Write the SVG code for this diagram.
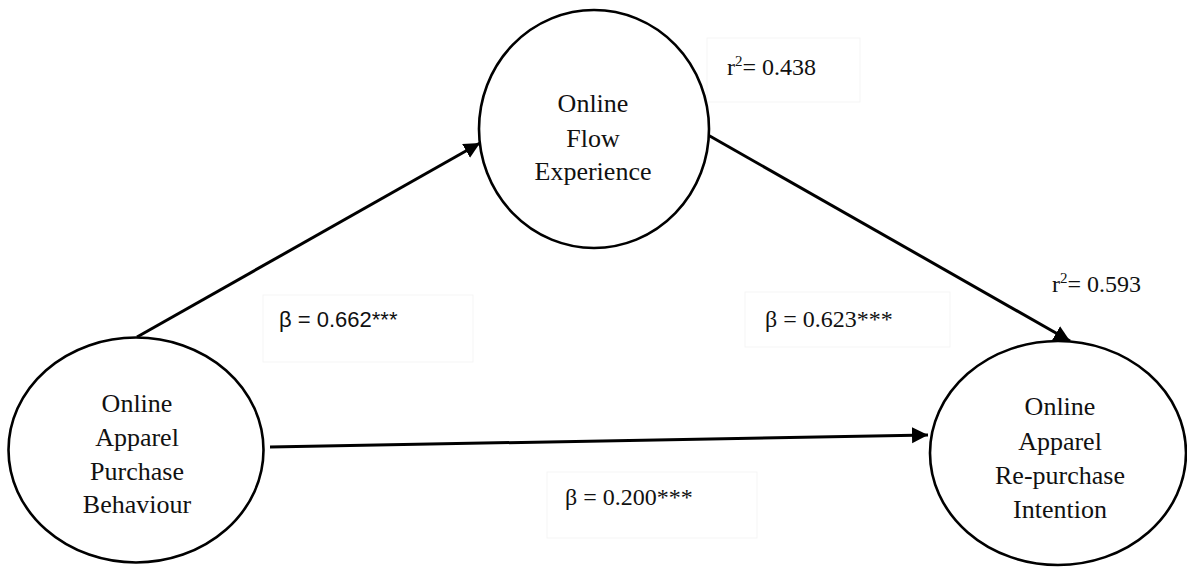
<svg xmlns="http://www.w3.org/2000/svg" width="1187" height="569" viewBox="0 0 1187 569">
<style>
.node{fill:#fff;stroke:#000;stroke-width:2.6}
.lbl{font-family:"Liberation Serif","Times New Roman",serif;font-size:26px;fill:#111;text-anchor:middle}
.ser{font-family:"Liberation Serif","Times New Roman",serif;font-size:24px;fill:#111}
.sans{font-family:"Liberation Sans",Arial,sans-serif;font-size:22px;fill:#111}
.box{fill:#fff;stroke:#f5f5f5;stroke-width:1}
.edge{fill:none;stroke:#000;stroke-width:3}
</style>
<defs>
<marker id="ah" markerUnits="userSpaceOnUse" markerWidth="18" markerHeight="18" refX="16" refY="8" orient="auto">
<path d="M0,0 L16,8 L0,16 z" fill="#000"/>
</marker>
</defs>
<rect width="1187" height="569" fill="#fff"/>
<g id="labels">
<rect class="box" x="263" y="295" width="210" height="67"/>
<rect class="box" x="745" y="292" width="205" height="55"/>
<rect class="box" x="707" y="38" width="153" height="64"/>
<rect class="box" x="547" y="472" width="210" height="66"/>
<text class="sans" x="279" y="327">β = 0.662***</text>
<text class="ser" x="765" y="327">β = 0.623***</text>
<text class="ser" x="565" y="505">β = 0.200***</text>
<text class="ser" x="727" y="75">r<tspan font-size="15" dy="-9">2</tspan><tspan dy="9">= 0.438</tspan></text>
<text class="ser" x="1052" y="292">r<tspan font-size="15" dy="-9">2</tspan><tspan dy="9">= 0.593</tspan></text>
</g>
<g id="connectors">
<path class="edge" d="M137,337 L480,143" marker-end="url(#ah)"/>
<path class="edge" d="M708,135 L1070,341" marker-end="url(#ah)"/>
<path class="edge" d="M270,447 L928,435" marker-end="url(#ah)"/>
</g>
<g id="node-flow">
<ellipse class="node" cx="594" cy="129" rx="115" ry="119"/>
<text class="lbl" x="593" y="112">Online</text>
<text class="lbl" x="593" y="147">Flow</text>
<text class="lbl" x="593" y="180">Experience</text>
</g>
<g id="node-purchase">
<ellipse class="node" cx="136" cy="450" rx="127.5" ry="112.5"/>
<text class="lbl" x="137" y="412">Online</text>
<text class="lbl" x="137" y="446">Apparel</text>
<text class="lbl" x="137" y="480">Purchase</text>
<text class="lbl" x="137" y="513">Behaviour</text>
</g>
<g id="node-repurchase">
<ellipse class="node" cx="1058" cy="453" rx="128" ry="112"/>
<text class="lbl" x="1060" y="415">Online</text>
<text class="lbl" x="1060" y="450">Apparel</text>
<text class="lbl" x="1060" y="484">Re-purchase</text>
<text class="lbl" x="1060" y="518">Intention</text>
</g>
</svg>
